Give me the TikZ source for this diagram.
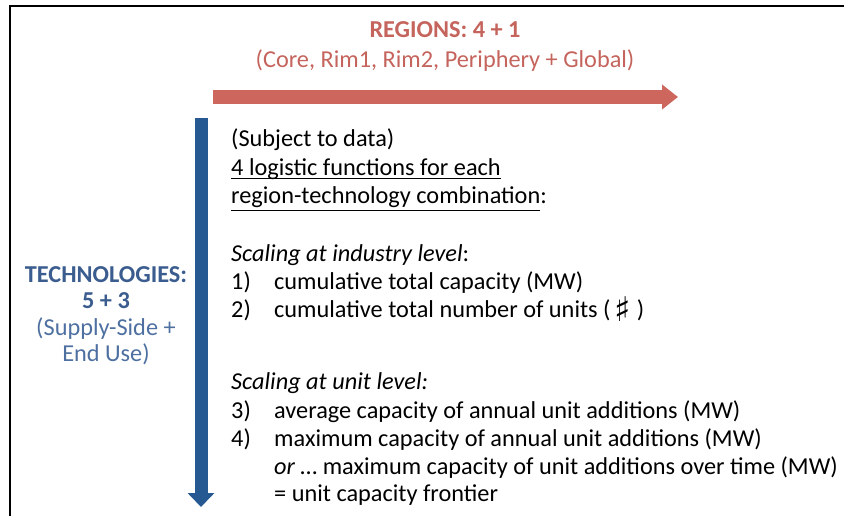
\documentclass[tikz,border=0pt]{standalone}
\usepackage{fontspec}
\setmainfont{Carlito}
\newfontfamily\symfont{DejaVu Sans}
\usetikzlibrary{positioning,arrows.meta}
\definecolor{regionred}{RGB}{205,102,92}
\definecolor{regiontext}{RGB}{196,100,92}
\definecolor{techblue}{RGB}{38,89,145}
\definecolor{techtext}{RGB}{58,92,142}
\definecolor{techlight}{RGB}{78,112,160}
\newcommand{\ulined}[2][3pt]{\setbox0\hbox{#2}\rlap{\rule[-#1]{\wd0}{1.2pt}}\box0}
\tikzset{
    txt/.style={inner sep=0pt, anchor=base west, font=\fontsize{24.3}{28}\selectfont},
    headtxt/.style={inner sep=0pt, anchor=base, font=\fontsize{24.3}{28}\selectfont},
    regarrow/.style={draw=regionred, line width=14pt, -{Triangle[width=24pt,length=16pt]}},
    techarrow/.style={draw=techblue, line width=13pt, -{Triangle[width=26pt,length=14pt]}}
}
\begin{document}
\begin{tikzpicture}[x=1pt,y=-1pt]
\useasboundingbox (0,0) rectangle (844,516);
\draw[line width=2.5pt] (10,516) -- (10,6.2) -- (844,6.2);

% regions
\node[headtxt, text=regiontext, font=\fontsize{24.3}{28}\selectfont\bfseries] (reghead) at (445,38) {REGIONS: 4 + 1};
\node[headtxt, text=regiontext] (reglist) at (445,68) {(Core, Rim1, Rim2, Periphery + Global)};
\coordinate (regstart) at (213,97);
\coordinate (regend) at (678,97);
\draw[regarrow] (regstart) -- (regend);

% technologies
\node[headtxt, text=techtext, font=\fontsize{24.3}{28}\selectfont\bfseries] (techhead) at (106,282) {TECHNOLOGIES:};
\node[headtxt, text=techtext, font=\fontsize{24.3}{28}\selectfont\bfseries] (technum) at (106,308) {5 + 3};
\node[headtxt, text=techlight] (techsub) at (106,335) {(Supply-Side +};
\node[headtxt, text=techlight] (techsubb) at (106,361) {End Use)};
\coordinate (techstart) at (201,118);
\coordinate (techend) at (201,507);
\draw[techarrow] (techstart) -- (techend);

% functions
\node[txt] (subj) at (231,147) {(Subject to data)};
\node[txt] (logi) at (231,176) {\ulined{4 logistic functions for each}};
\node[txt] (comb) at (231,204) {\ulined[7pt]{region-technology combination}:};

\node[txt] (indus) at (231,261) {\itshape Scaling at industry level\upshape:};
\node[txt] (n1) at (231,289) {1)};
\node[txt] (it1) at (274,289) {cumulative total capacity (MW)};
\node[txt] (n2) at (231,317) {2)};
\node[txt] (it2) at (274,317) {cumulative total number of units ({\symfont\,\fontsize{34}{34}\selectfont\raisebox{-4pt}{♯}\,})};

\node[txt] (unit) at (231,389) {\itshape Scaling at unit level:};
\node[txt] (n3) at (231,418) {3)};
\node[txt] (it3) at (274,418) {average capacity of annual unit additions (MW)};
\node[txt] (n4) at (231,446) {4)};
\node[txt] (it4) at (274,446) {maximum capacity of annual unit additions (MW)};
\node[txt] (it4b) at (274,474) {\itshape or\upshape{} … maximum capacity of unit additions over time (MW)};
\node[txt] (it4c) at (274,501) {= unit capacity frontier};
\end{tikzpicture}
\end{document}
